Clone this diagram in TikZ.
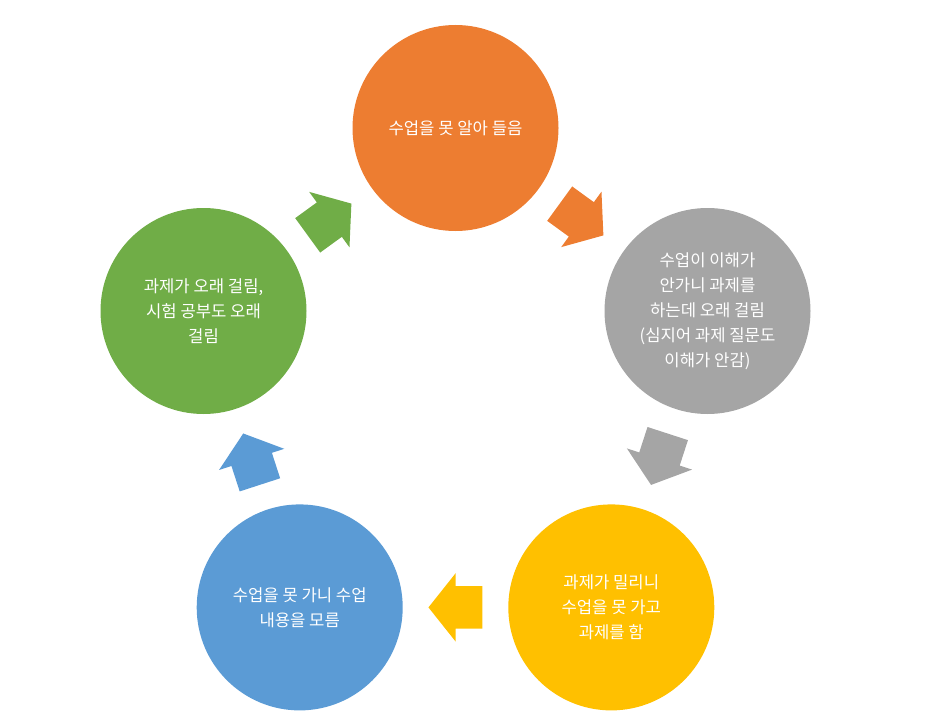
\documentclass[tikz,border=0pt]{standalone}
\usepackage{fontspec}
\setmainfont{Noto Sans CJK KR}
\usepackage{tikz}
\usetikzlibrary{shapes, shapes.arrows, calc, positioning}

\definecolor{ofOrange}{HTML}{ED7D31}
\definecolor{ofGray}{HTML}{A5A5A5}
\definecolor{ofYellow}{HTML}{FFC000}
\definecolor{ofBlue}{HTML}{5B9BD5}
\definecolor{ofGreen}{HTML}{70AD47}

\begin{document}
\begin{tikzpicture}[
        x=0.75pt, y=-0.75pt,
        stage/.style={circle, minimum size=154.5pt, inner sep=0pt, text=white, align=center, font=\fontsize{12.5}{18.75}\selectfont},
        flow/.style={single arrow, inner xsep=0pt, inner ysep=15.75pt, minimum height=40.5pt, single arrow head extend=9.75pt, single arrow tip angle=103, anchor=center}
    ]
        \useasboundingbox (0,0) rectangle (949,724);

        % Nodes
        \node[stage, fill=ofOrange] (lecture) at (455.5,128) {수업을 못 알아 들음};
        \node[stage, fill=ofGray] (homework) at (707.5,311) {수업이 이해가\\안가니 과제를\\하는데 오래 걸림\\(심지어 과제 질문도\\이해가 안감)};
        \node[stage, fill=ofYellow] (behind) at (611.3,607.4) {과제가 밀리니\\수업을 못 가고\\과제를 함};
        \node[stage, fill=ofBlue] (missclass) at (299.7,607.4) {수업을 못 가니 수업\\내용을 모름};
        \node[stage, fill=ofGreen] (longtime) at (203.5,311) {과제가 오래 걸림,\\시험 공부도 오래\\걸림};

        % Arrows
        \node[flow, fill=ofOrange, rotate=-36] (a1) at ($(lecture)!0.473!(homework)$) {};
        \node[flow, fill=ofGray, rotate=-108] (a2) at ($(homework)!0.473!(behind)$) {};
        \node[flow, fill=ofYellow, rotate=180] (a3) at ($(behind)!0.473!(missclass)$) {};
        \node[flow, fill=ofBlue, rotate=108] (a4) at ($(missclass)!0.473!(longtime)$) {};
        \node[flow, fill=ofGreen, rotate=36] (a5) at ($(longtime)!0.473!(lecture)$) {};
    \end{tikzpicture}
\end{document}
